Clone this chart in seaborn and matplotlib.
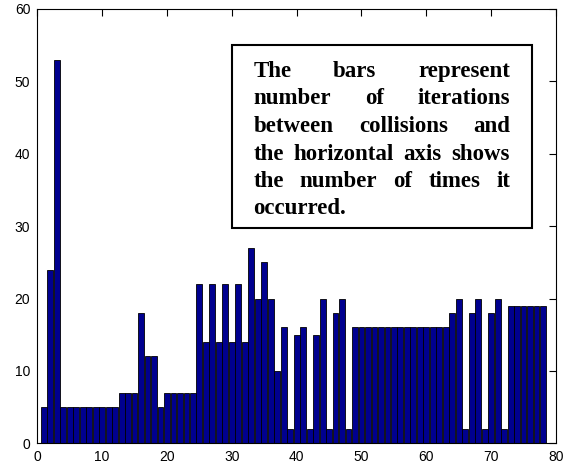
import numpy as np
import pandas as pd
import matplotlib
matplotlib.use("Agg")
import matplotlib.pyplot as plt
import seaborn as sns

# ---- data ----
positions = list(range(1, 79))
counts = ([5, 24, 53] + [5] * 9 + [7, 7, 7, 18, 12, 12, 5] + [7] * 5 +
          [22, 14, 22, 14, 22, 14, 22, 14, 27, 20, 25, 20, 10, 16, 2, 15, 16, 2,
           15, 20, 2, 18, 20, 2] + [16] * 15 +
          [18, 20, 2, 18, 20, 2, 18, 20, 2] + [19] * 6)
x_ticks = [0, 10, 20, 30, 40, 50, 60, 70, 80]
y_ticks = [0, 10, 20, 30, 40, 50, 60]
note_lines = [
    "The bars represent",
    "number of iterations",
    "between collisions and",
    "the horizontal axis shows",
    "the number of times it",
    "occurred.",
]

df = pd.DataFrame({"pos": positions, "count": counts})

sns.set_style("white")
plt.rcParams["font.family"] = ["Liberation Sans", "DejaVu Sans"]
plt.rcParams["text.color"] = "black"

W, H = 570, 470
fig = plt.figure(figsize=(W / 100, H / 100), dpi=100)
ax = fig.add_axes([37.3 / W, 1 - 443.3 / H, (556 - 37.3) / W, (443.3 - 9) / H])

ax.bar(df["pos"], df["count"], width=0.9, color="#00008F",
       edgecolor="black", linewidth=0.6)

ax.set_xlim(0, 80)
ax.set_ylim(0, 60)
ax.set_xticks(x_ticks)
ax.set_yticks(y_ticks)
ax.tick_params(direction="in", length=5, width=0.8, top=True, right=True,
               labelsize=10, colors="black", pad=5)
for s in ax.spines.values():
    s.set_visible(True)
    s.set_color("black")
    s.set_linewidth(0.8)

# ---- annotation box ----
box_l, box_r, box_t, box_b = 231.7, 532.3, 45, 227.7
fig.patches.append(plt.Rectangle((box_l / W, 1 - box_b / H),
                                 (box_r - box_l) / W, (box_b - box_t) / H,
                                 transform=fig.transFigure, facecolor="white",
                                 edgecolor="black", linewidth=1.5, zorder=5))

text_l, text_r = 253.3, 510.0
baseline0, line_step = 77.0, 27.5
fs = 16.5
word_objs = []
for i, line in enumerate(note_lines):
    words = line.split()
    y = 1 - (baseline0 + i * line_step) / H
    objs = [fig.text(0, y, w, fontsize=fs, fontweight="bold", color="black",
                     family=["Liberation Serif", "DejaVu Serif"],
                     va="baseline", ha="left", zorder=6) for w in words]
    word_objs.append(objs)

fig.canvas.draw()
renderer = fig.canvas.get_renderer()
for i, objs in enumerate(word_objs):
    widths = [o.get_window_extent(renderer).width for o in objs]
    justify = i < len(word_objs) - 1 and len(objs) > 1
    if justify:
        gap = (text_r - text_l - sum(widths)) / (len(objs) - 1)
    else:
        gap = fs * 0.35
    x = text_l
    for o, w in zip(objs, widths):
        o.set_x(x / W)
        x += w + gap

fig.savefig("out.png", dpi=100)
